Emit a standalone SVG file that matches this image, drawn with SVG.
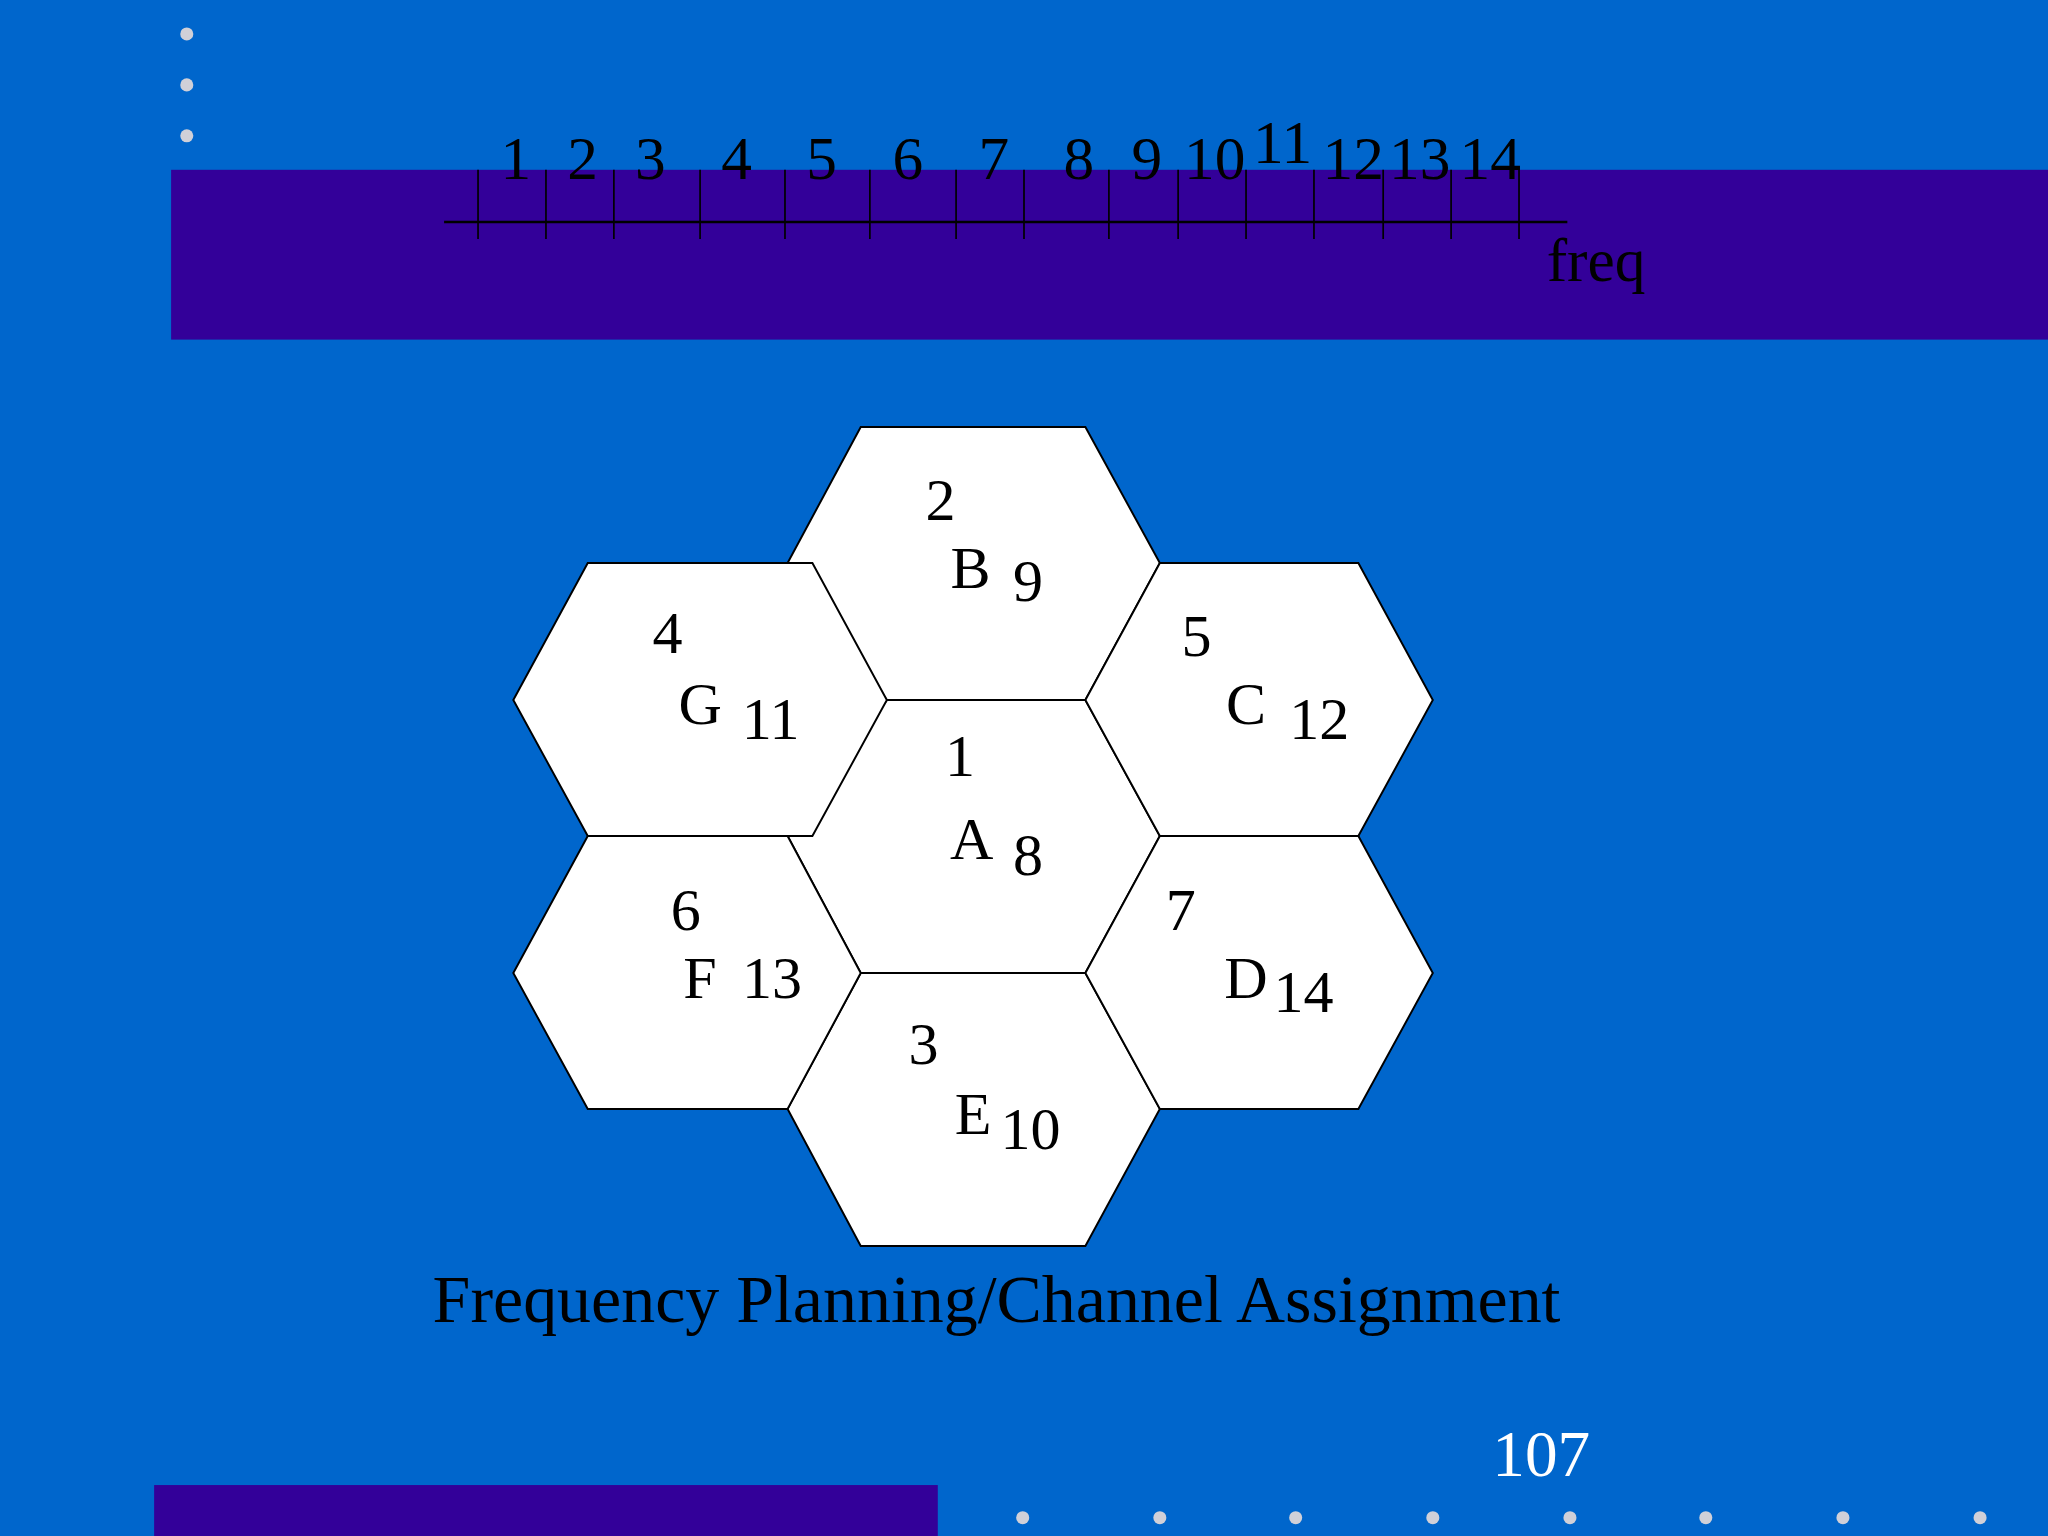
<svg xmlns="http://www.w3.org/2000/svg" width="2048" height="1536" viewBox="0 0 2048 1536">
<style>
text{font-family:"Liberation Serif","Times New Roman",serif;fill:#000;text-anchor:middle}
.n{font-size:47px}.h{font-size:46px}
.hex{fill:#fff;stroke:#000;stroke-width:1.5}
.dot{fill:#d0d0d8}
</style>
<rect width="2048" height="1536" fill="#0066cc"/>
<g transform="scale(1.30612)">
<rect x="131" y="130" width="1437" height="130" fill="#330099"/>
<rect x="118" y="1137" width="600" height="39" fill="#330099"/>
<g class="dot"><circle cx="143" cy="26" r="5"/><circle cx="143" cy="65" r="5"/><circle cx="143" cy="104" r="5"/>
<circle cx="783" cy="1162" r="5"/><circle cx="888" cy="1162" r="5"/><circle cx="992" cy="1162" r="5"/><circle cx="1097" cy="1162" r="5"/><circle cx="1202" cy="1162" r="5"/><circle cx="1306" cy="1162" r="5"/><circle cx="1411" cy="1162" r="5"/><circle cx="1516" cy="1162" r="5"/></g>
<g id="axis" stroke="#000" stroke-width="1.3">
<line x1="340" y1="170" x2="1200" y2="170" stroke-width="2"/>
<path d="M366 130V183M418 130V183M470 130V183M536 130V183M601 130V183M666 130V183M732 130V183M784 130V183M849 130V183M902 130V183M954 130V183M1006 130V183M1059 130V183M1111 130V183M1163 130V183"/>
</g>
<g class="n">
<text x="395" y="137">1</text><text x="446" y="137">2</text><text x="498" y="137">3</text><text x="564" y="137">4</text><text x="629" y="137">5</text><text x="695" y="137">6</text><text x="761" y="137">7</text><text x="826" y="137">8</text><text x="878" y="137">9</text><text x="930" y="137">10</text><text x="982" y="125">11</text><text x="1036" y="137">12</text><text x="1087" y="137">13</text><text x="1141" y="137">14</text>
<text x="1222" y="215">freq</text>
</g>
<g id="A" class="h"><polygon class="hex" points="603,640 679,536 831,536 888,640 831,745 659,745"/><text x="735" y="594">1</text><text x="744" y="658">A</text><text x="787" y="670">8</text></g>
<g id="B" class="h"><polygon class="hex" points="603,431 659,327 831,327 888,431 831,536 679,536"/><text x="720" y="398">2</text><text x="743" y="450">B</text><text x="787" y="460">9</text></g>
<g id="E" class="h"><polygon class="hex" points="603,849 659,745 831,745 888,849 831,954 659,954"/><text x="707" y="815">3</text><text x="745" y="868">E</text><text x="789" y="880">10</text></g>
<g id="G" class="h"><polygon class="hex" points="393,536 450,431 622,431 679,536 622,640 450,640"/><text x="511" y="500">4</text><text x="536" y="554">G</text><text x="590" y="566">11</text></g>
<g id="C" class="h"><polygon class="hex" points="831,536 888,431 1040,431 1097,536 1040,640 888,640"/><text x="916" y="502">5</text><text x="954" y="554">C</text><text x="1010" y="566">12</text></g>
<g id="F" class="h"><polygon class="hex" points="393,745 450,640 603,640 659,745 603,849 450,849"/><text x="525" y="712">6</text><text x="536" y="764">F</text><text x="591" y="764">13</text></g>
<g id="D" class="h"><polygon class="hex" points="831,745 888,640 1040,640 1097,745 1040,849 888,849"/><text x="904" y="712">7</text><text x="954" y="764">D</text><text x="998" y="775">14</text></g>
<text x="763" y="1012" style="font-size:52px">Frequency Planning/Channel Assignment</text>
<text x="1180" y="1130" style="font-size:50px;fill:#fff">107</text>
</g>
</svg>
